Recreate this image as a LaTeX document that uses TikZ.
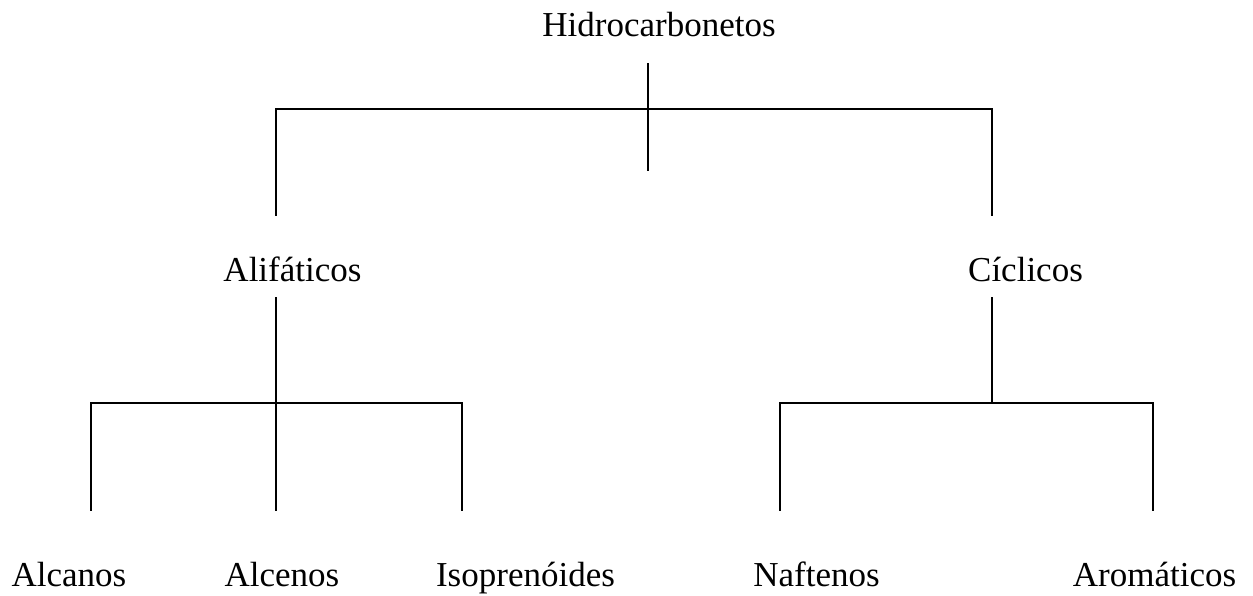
\documentclass[tikz,border=0pt]{standalone}
\usepackage{fontspec}
\setmainfont{Liberation Serif}
\begin{document}
\begin{tikzpicture}[x=1pt,y=-1pt,
  lbl/.style={inner sep=0pt,anchor=base,font=\fontsize{35}{40}\selectfont},
  conn/.style={line width=2pt,line cap=rect}]
\useasboundingbox (0,0) rectangle (1253,596);
% labels
\node[lbl] (h)    at (659,37)  {Hidrocarbonetos};
\node[lbl] (ali)  at (292.5,281) {Alifáticos};
\node[lbl] (cic)  at (1025.5,281) {Cíclicos};
\node[lbl] (alc)  at (69,586) {Alcanos};
\node[lbl] (alce) at (282,586) {Alcenos};
\node[lbl] (iso)  at (525.5,586) {Isoprenóides};
\node[lbl] (naf)  at (816.5,586) {Naftenos};
\node[lbl] (aro)  at (1154.5,586) {Aromáticos};
% junction coordinates
\coordinate (hT) at (648,64);
\coordinate (hB) at (648,170);
\coordinate (j1L) at (276,109);
\coordinate (j1R) at (992,109);
\coordinate (aliT) at (276,215);
\coordinate (cicT) at (992,215);
\coordinate (aliB) at (276,298);
\coordinate (cicB) at (992,298);
\coordinate (j2L) at (91,403);
\coordinate (j2R) at (462,403);
\coordinate (j3L) at (780,403);
\coordinate (j3R) at (1153,403);
\coordinate (cicJ) at (992,403);
\coordinate (alcT) at (91,510);
\coordinate (alceT) at (276,510);
\coordinate (isoT) at (462,510);
\coordinate (nafT) at (780,510);
\coordinate (aroT) at (1153,510);
% connectors
\draw[conn] (hT) -- (hB);
\draw[conn] (aliT) -- (j1L) -- (j1R) -- (cicT);
\draw[conn] (aliB) -- (alceT);
\draw[conn] (alcT) -- (j2L) -- (j2R) -- (isoT);
\draw[conn] (cicB) -- (cicJ);
\draw[conn] (nafT) -- (j3L) -- (j3R) -- (aroT);
\end{tikzpicture}
\end{document}
